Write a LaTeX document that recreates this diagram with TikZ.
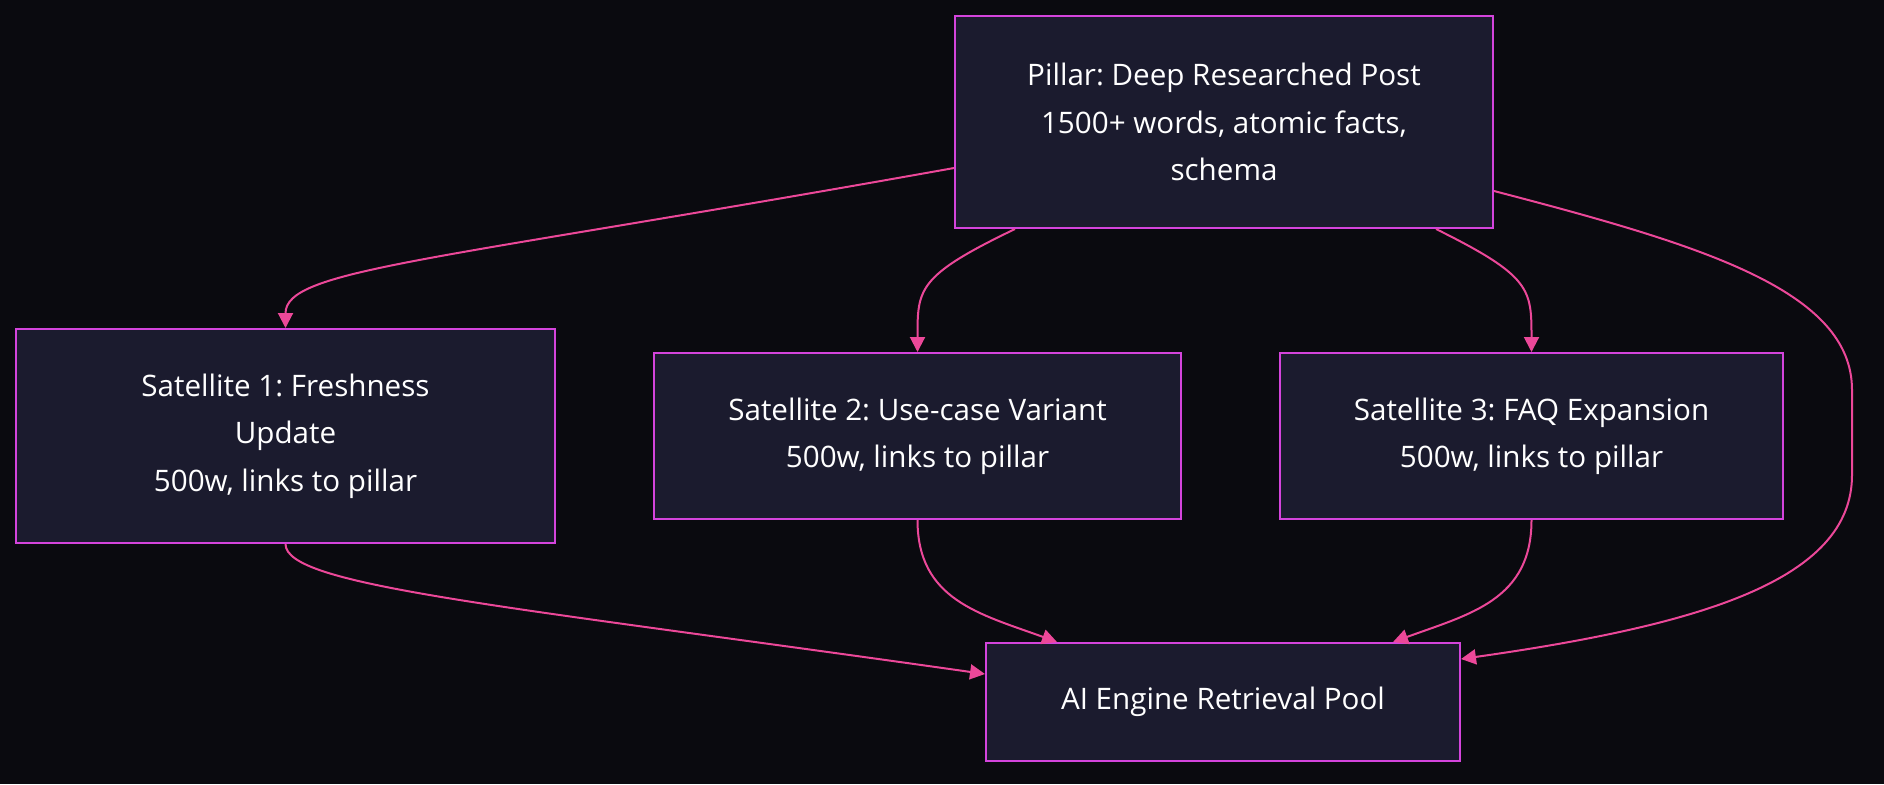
\documentclass[tikz,border=0pt]{standalone}
\usepackage{fontspec}
\setmainfont{Open Sans}
\frenchspacing
\usetikzlibrary{arrows.meta}
\definecolor{bgdark}{HTML}{0A0A0F}
\definecolor{boxfill}{HTML}{1B1B2E}
\definecolor{boxline}{HTML}{D444DC}
\definecolor{linkpink}{HTML}{EC4899}

\begin{document}
\begin{tikzpicture}[x=0.5pt, y=-0.5pt, >={Triangle[length=7.5pt, width=7.5pt]},
    post/.style={rectangle, draw=boxline, fill=boxfill, line width=1pt,
      text=white, align=center, inner sep=0pt,
      font=\fontsize{14.8}{23.7}\selectfont},
    link/.style={->, draw=linkpink, line width=1pt},
  ]
    \fill[bgdark] (0,0) rectangle (1884,784);
    \useasboundingbox (0,0) rectangle (1884,784);

    \node[post, minimum width=269pt, minimum height=106pt] (pillar) at (1224,122) {Pillar: Deep Researched Post\\1500+ words, atomic facts,\\schema};

    \node[post, minimum width=269.5pt, minimum height=107pt] (sat1) at (285.5,436) {Satellite 1: Freshness\\Update\\500w, links to pillar};
    \node[post, minimum width=263.5pt, minimum height=83pt] (sat2) at (917.5,436) {Satellite 2: Use-case Variant\\500w, links to pillar};
    \node[post, minimum width=251.5pt, minimum height=83pt] (sat3) at (1531.5,436) {Satellite 3: FAQ Expansion\\500w, links to pillar};

    \node[post, minimum width=237pt, minimum height=59pt] (pool) at (1223,702) {AI Engine Retrieval Pool};

    \draw[link] ([yshift=-23pt]pillar.west) .. controls +(-525,94) and +(0,-59) .. (sat1.north);
    \draw[link] ([xshift=-104.5pt]pillar.south) .. controls +(-98,47) and +(0,-63) .. (sat2.north);
    \draw[link] ([xshift=106pt]pillar.south) .. controls +(95,47) and +(0,-63) .. (sat3.north);
    \draw[link] ([yshift=-34.5pt]pillar.east) .. controls +(207,54) and +(0,-100) .. (1852,390)
      -- (1852,475) .. controls +(0,105) and +(240,-34) .. ([yshift=21.5pt]pool.east);
    \draw[link] (sat1.south) .. controls +(0,42) and +(-486,-69) .. ([yshift=14pt]pool.west);
    \draw[link] (sat2.south) .. controls +(0,80) and +(-77,-28) .. ([xshift=-83pt]pool.north);
    \draw[link] (sat3.south) .. controls +(0,80) and +(77,-28) .. ([xshift=85pt]pool.north);
  \end{tikzpicture}
\end{document}
